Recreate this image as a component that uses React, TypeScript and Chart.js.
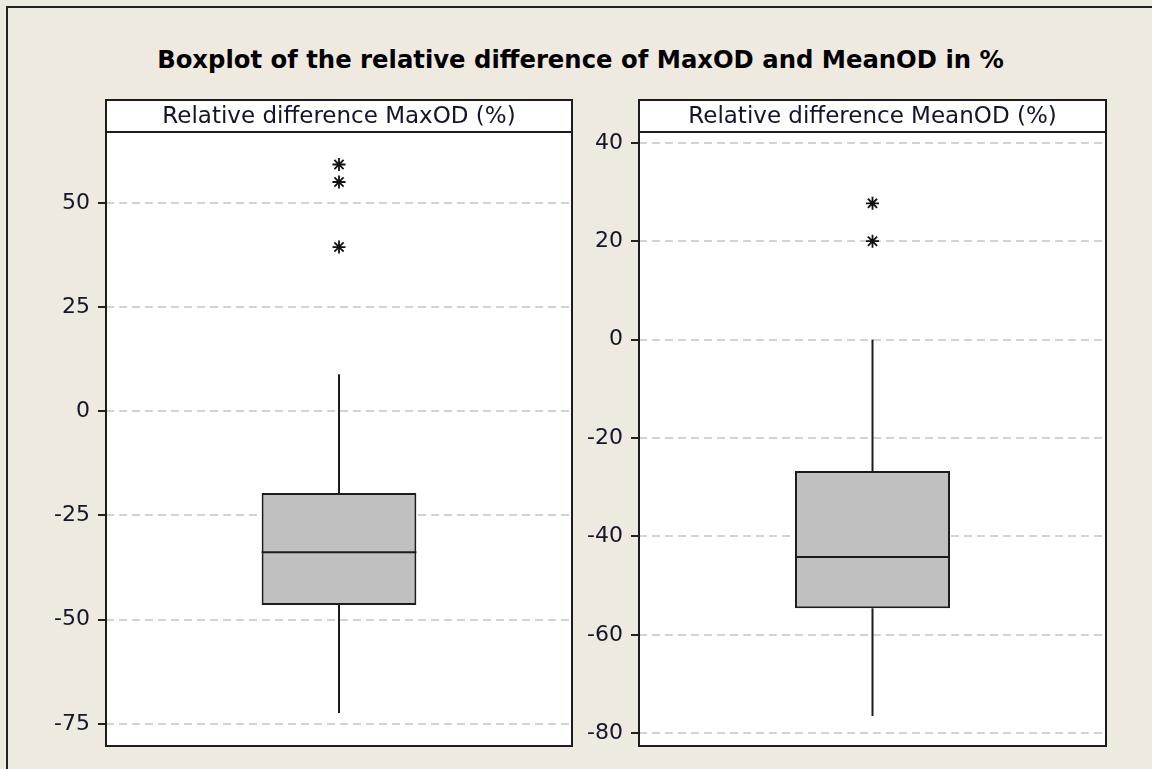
import React, { useEffect, useRef } from 'react';
import { Chart, registerables } from 'chart.js';

Chart.register(...registerables);

const TITLE = 'Boxplot of the relative difference of MaxOD and MeanOD in %';
const PANEL_TITLES = ['Relative difference MaxOD (%)', 'Relative difference MeanOD (%)'];

// [Q1, median, Q3]
const MAXOD_BOX = [-46.5, -33.8, -19.6];
// [lower whisker end, upper whisker end]
const MAXOD_WHISKERS = [-72.4, 8.9];
const MAXOD_OUTLIERS = [39.4, 55.0, 59.2];
const MAXOD_TICKS = [-75, -50, -25, 0, 25, 50];
const MAXOD_RANGE = [-80.3, 67.0];

const MEANOD_BOX = [-54.6, -44.2, -26.7];
const MEANOD_WHISKERS = [-76.5, 0];
const MEANOD_OUTLIERS = [20.0, 27.7];
const MEANOD_TICKS = [-80, -60, -40, -20, 0, 20, 40];
const MEANOD_RANGE = [-82.6, 42.2];

const BOX_FRACTION = 0.332;
const FONT = 'DejaVu Sans';
const INK = '#1c1c1c';
const TEXT = '#14142a';

const panelPlugin = {
  id: 'panelFrame',
  beforeDraw(chart: any) {
    const { ctx, chartArea: a } = chart;
    ctx.save();
    ctx.fillStyle = '#ffffff';
    ctx.fillRect(a.left, a.top, a.right - a.left, a.bottom - a.top);
    ctx.restore();
  },
  afterDraw(chart: any, _args: any, opts: any) {
    const { ctx, chartArea: a } = chart;
    const hh = 32;
    ctx.save();
    ctx.lineWidth = 2;
    ctx.strokeStyle = INK;
    ctx.strokeRect(a.left, a.top, a.right - a.left, a.bottom - a.top);
    ctx.fillStyle = '#ffffff';
    ctx.fillRect(a.left, a.top - hh, a.right - a.left, hh);
    ctx.strokeRect(a.left, a.top - hh, a.right - a.left, hh);
    ctx.fillStyle = TEXT;
    ctx.font = `23px "${FONT}"`;
    ctx.textAlign = 'center';
    ctx.textBaseline = 'middle';
    ctx.fillText(opts.text || '', (a.left + a.right) / 2, a.top - hh / 2 + 1);
    ctx.restore();
  },
};

type PanelProps = {
  title: string;
  box: number[];
  whiskers: number[];
  outliers: number[];
  ticks: number[];
  range: number[];
  left: number;
  yWidth: number;
  padRight: number;
};

function Panel(p: PanelProps) {
  const ref = useRef<HTMLCanvasElement | null>(null);
  useEffect(() => {
    if (!ref.current) return;
    const half = BOX_FRACTION / 2;
    const line = (pts: { x: number; y: number }[]) => ({
      type: 'scatter' as const,
      xAxisID: 'x2',
      yAxisID: 'y',
      showLine: true,
      data: pts,
      borderColor: INK,
      borderWidth: 2,
      pointRadius: 0,
      order: 1,
    });
    const chart = new Chart(ref.current, {
      type: 'bar',
      data: {
        labels: [''],
        datasets: [
          {
            type: 'bar',
            xAxisID: 'x',
            yAxisID: 'y',
            data: [[p.box[0], p.box[2]]] as any,
            backgroundColor: '#c0c0c0',
            borderColor: INK,
            borderWidth: 2,
            borderSkipped: false,
            barPercentage: BOX_FRACTION,
            categoryPercentage: 1,
            grouped: false,
            order: 2,
          } as any,
          line([{ x: 0, y: p.box[2] }, { x: 0, y: p.whiskers[1] }]),
          line([{ x: 0, y: p.box[0] }, { x: 0, y: p.whiskers[0] }]),
          line([{ x: -half, y: p.box[1] }, { x: half, y: p.box[1] }]),
          {
            type: 'scatter',
            xAxisID: 'x2',
            yAxisID: 'y',
            data: p.outliers.map((v) => ({ x: 0, y: v })),
            pointStyle: 'star',
            pointRadius: 6.5,
            borderColor: '#111',
            borderWidth: 1.8,
            backgroundColor: 'rgba(0,0,0,0)',
            order: 0,
          } as any,
        ],
      },
      options: {
        responsive: false,
        animation: false,
        events: [],
        layout: { padding: { top: 42, bottom: 24, left: 0, right: p.padRight } },
        plugins: {
          legend: { display: false },
          tooltip: { enabled: false },
          title: { display: false },
          panelFrame: { text: p.title },
        } as any,
        scales: {
          x: { type: 'category', offset: true, display: false },
          x2: { type: 'linear', min: -0.5, max: 0.5, offset: false, display: false },
          y: {
            type: 'linear',
            min: p.range[0],
            max: p.range[1],
            afterBuildTicks: (s: any) => {
              s.ticks = p.ticks.map((v) => ({ value: v }));
            },
            afterFit: (s: any) => {
              s.width = p.yWidth;
            },
            ticks: {
              font: { family: FONT, size: 22 },
              color: TEXT,
              padding: 8,
            },
            grid: {
              color: '#d3d3d3',
              lineWidth: 2,
              tickColor: '#222',
              tickWidth: 2,
              tickLength: 8,
              tickBorderDash: [],
            },
            border: { display: false, dash: [8, 5] },
          } as any,
        },
      },
      plugins: [panelPlugin],
    } as any);
    return () => chart.destroy();
  }, []);
  return (
    <canvas
      ref={ref}
      width={570}
      height={680}
      style={{ position: 'absolute', left: p.left, top: 90, width: 570, height: 680 }}
    />
  );
}

export default function App() {
  return (
    <div
      style={{
        position: 'fixed',
        left: 0,
        top: 0,
        width: 1152,
        height: 769,
        background: '#eeeae0',
        overflow: 'hidden',
      }}
    >
      <div
        style={{
          position: 'absolute',
          left: 6,
          top: 6,
          width: 1400,
          height: 1000,
          border: '2px solid #222',
        }}
      />
      <div
        style={{
          position: 'absolute',
          left: 0,
          top: 46,
          width: 1161,
          textAlign: 'center',
          font: `bold 24.3px "${FONT}"`,
          lineHeight: '28px',
          color: '#000',
          whiteSpace: 'nowrap',
        }}
      >
        {TITLE}
      </div>
      <Panel
        title={PANEL_TITLES[0]}
        box={MAXOD_BOX}
        whiskers={MAXOD_WHISKERS}
        outliers={MAXOD_OUTLIERS}
        ticks={MAXOD_TICKS}
        range={MAXOD_RANGE}
        left={20}
        yWidth={86}
        padRight={18}
      />
      <Panel
        title={PANEL_TITLES[1]}
        box={MEANOD_BOX}
        whiskers={MEANOD_WHISKERS}
        outliers={MEANOD_OUTLIERS}
        ticks={MEANOD_TICKS}
        range={MEANOD_RANGE}
        left={560}
        yWidth={79}
        padRight={24}
      />
    </div>
  );
}
